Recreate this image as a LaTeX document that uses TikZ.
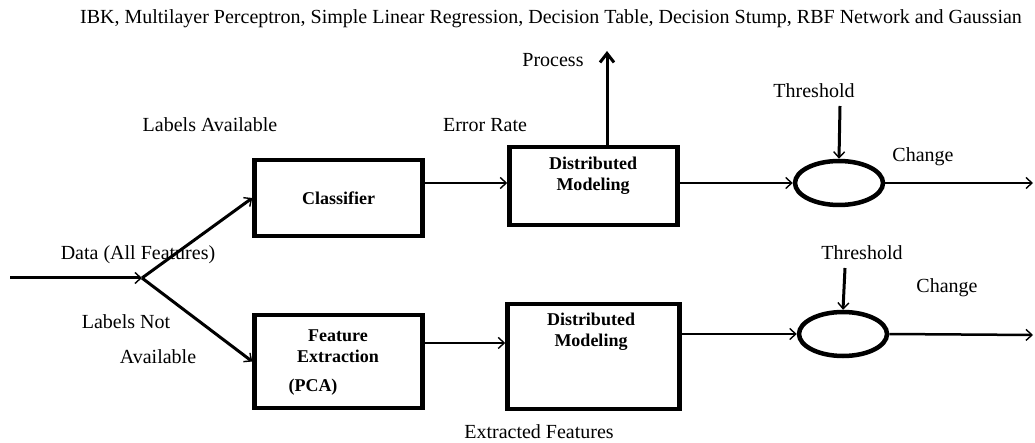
\documentclass[tikz,border=0pt]{standalone}
\usepackage{fontspec}
\setmainfont{Liberation Serif}
\usetikzlibrary{arrows.meta,calc,shapes.geometric}

\tikzset{
  lbl/.style={inner sep=0pt, font=\fontsize{20}{22}\selectfont},
  boxtext/.style={inner sep=0pt, align=center, font=\bfseries\fontsize{18}{21}\selectfont},
  blk/.style={draw, line width=4.5pt, inner sep=0pt, font=\bfseries\fontsize{18}{21}\selectfont, align=center},
  cmp/.style={draw, ellipse, line width=4.5pt, minimum width=88pt, minimum height=44pt, inner sep=0pt},
  tip/.style={-{Straight Barb[length=6pt,width=11pt,line width=1.4pt]}},
  bigtip/.style={-{Straight Barb[length=9pt,width=14pt,line width=3pt]}}
}

\begin{document}
\begin{tikzpicture}[x=1pt,y=-1pt]
\useasboundingbox (0,0) rectangle (1035,443);

% blocks
\node[blk, minimum width=168pt, minimum height=76pt] (cls) at (338.5,198) {Classifier};
\node[blk, minimum width=168pt, minimum height=78pt] (dm1) at (593.5,186) {};
\node[boxtext, anchor=north] (dm1t) at (593,157) {Distributed\\Modeling};
\node[blk, minimum width=168pt, minimum height=93pt] (fe) at (338.5,361.5) {};
\node[boxtext, anchor=north] (fet) at (338,330) {Feature\\Extraction};
\node[boxtext] (pca) at (313,387) {(PCA)};
\node[blk, minimum width=172pt, minimum height=105pt] (dm2) at (593.5,356.5) {};
\node[boxtext, anchor=north] (dm2t) at (591,313) {Distributed\\Modeling};

% comparators
\node[cmp] (e1) at (839,183) {};
\node[cmp] (e2) at (843,334) {};

% labels
\node[lbl] (title) at (551,19) {IBK, Multilayer Perceptron, Simple Linear Regression, Decision Table, Decision Stump, RBF Network and Gaussian};
\node[lbl] (proc) at (553,60) {Process};
\node[lbl] (thr1) at (814,91) {Threshold};
\node[lbl] (la) at (210,125) {Labels Available};
\node[lbl] (err) at (485,125) {Error Rate};
\node[lbl] (ch1) at (923,157) {Change};
\node[lbl] (data) at (138,255) {Data (All Features)};
\node[lbl] (thr2) at (862,253) {Threshold};
\node[lbl] (ch2) at (947,288) {Change};
\node[lbl] (ln) at (126,322) {Labels Not};
\node[lbl] (av) at (158,357) {Available};
\node[lbl] (ef) at (539,432) {Extracted Features};

% free ends
\coordinate (src) at (10,278);
\coordinate (j) at (142,278);
\coordinate (ptop) at (607,51);
\coordinate (o1) at (1033,183);
\coordinate (o2) at (1033,335);
\coordinate (t1) at (840,106);
\coordinate (t2) at (845,268);
\coordinate (fo) at ($(fe.north east)!0.31!(fe.south east)$);

% connectors
\draw[tip, line width=3pt] (src) -- (j);
\draw[tip, line width=3pt] (j) -- (cls.west);
\draw[tip, line width=3pt] (j) -- (fe.west);
\draw[tip, line width=1.4pt] (e1.west -| cls.east) -- (e1.west -| dm1.west);
\draw[tip, line width=2.5pt] (e1.west -| dm1.east) -- (e1.west);
\draw[tip, line width=1.4pt] (e1.east) -- (o1);
\draw[tip, line width=3pt] (t1) -- (e1.north);
\draw[bigtip, line width=3pt] (ptop |- dm1.north) -- (ptop);
\draw[tip, line width=2.5pt] (fo) -- (fo -| dm2.west);
\draw[tip, line width=2.5pt] (e2.west -| dm2.east) -- (e2.west);
\draw[tip, line width=2.5pt] (e2.east) -- (o2);
\draw[tip, line width=3pt] (t2) -- (e2.north);
\end{tikzpicture}
\end{document}
